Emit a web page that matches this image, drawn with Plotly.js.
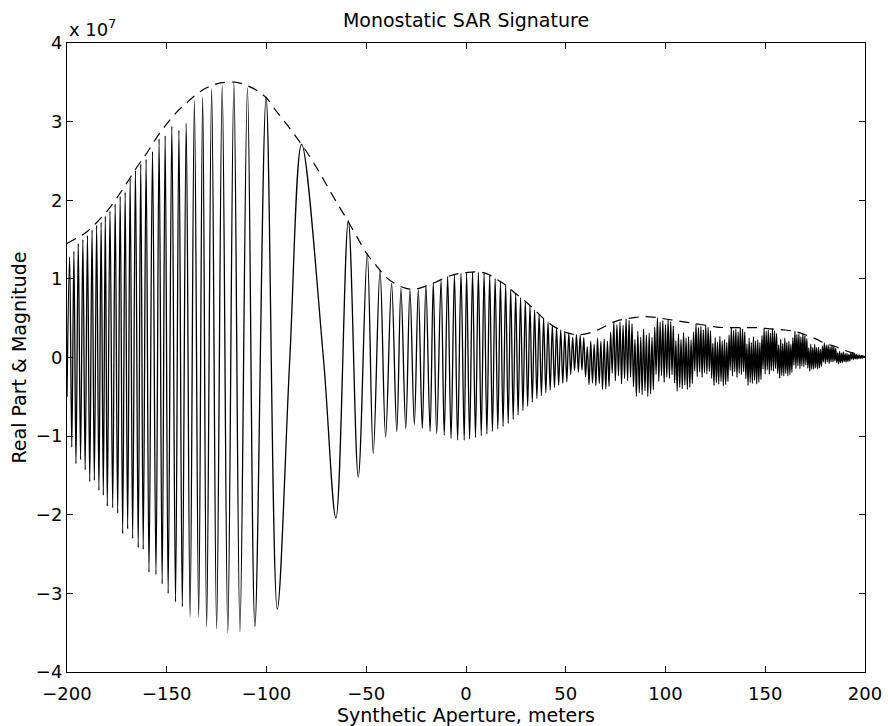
<!DOCTYPE html>
<html><head><meta charset="utf-8">
<script src="https://cdn.plot.ly/plotly-3.0.1.min.js"></script>
<style>html,body{margin:0;padding:0;background:#fff;} #chart{width:888px;height:726px;}</style>
</head><body><div id="chart"></div>
<script>
const SCALE = 1e7;

// Magnitude (dashed envelope): x in meters, value in units of 1e7
const magX = [-200,-195,-190,-185,-180,-175,-170,-165,-160,-155,-150,-145,-140,-135,-130,-125,-120,-115,-110,-105,-100,-95,-90,-85,-80,-75,-70,-65,-60,-55,-50,-45,-40,-35,-30,-25,-20,-15,-10,-5,0,5,10,15,20,25,30,35,40,45,50,55,60,65,70,75,80,85,90,95,100,105,110,115,120,125,130,135,140,145,150,155,160,165,170,175,180,185,190,195,200];
const magY = [1.45,1.52,1.60,1.72,1.86,2.03,2.22,2.42,2.60,2.80,2.97,3.12,3.24,3.35,3.43,3.48,3.50,3.50,3.46,3.40,3.30,3.13,2.97,2.80,2.62,2.42,2.20,1.98,1.77,1.55,1.33,1.17,1.02,0.93,0.88,0.87,0.91,0.96,1.02,1.06,1.08,1.09,1.07,1.00,0.92,0.81,0.71,0.59,0.47,0.38,0.32,0.29,0.30,0.34,0.40,0.46,0.49,0.51,0.52,0.51,0.49,0.47,0.45,0.43,0.41,0.39,0.38,0.38,0.38,0.38,0.37,0.36,0.35,0.33,0.29,0.24,0.18,0.14,0.09,0.05,0.01];

// Real part: resolved peaks and troughs (x m, value 1e7)
const extX = [-200,-198.7,-197.6,-196.55,-195.5,-194.35,-193.2,-192.05,-190.9,-189.75,-188.6,-187.45,-186.3,-185.15,-184.0,-182.9,-181.8,-180.8,-179.8,-178.45,-177.1,-175.85,-174.6,-173.35,-172.1,-170.85,-169.6,-168.35,-167.1,-165.7,-164.3,-163.05,-161.8,-160.35,-158.9,-157.15,-155.4,-153.85,-152.3,-150.8,-149.3,-147.45,-145.6,-143.9,-142.2,-140.25,-138.3,-136.15,-134.0,-132.0,-130.0,-127.5,-125.0,-122.2,-119.4,-116.35,-113.3,-109.55,-105.8,-100.2,-94.6,-88.3,-82.4,-71.5,-65.2,-59.0,-54.0,-49.5,-46.5,-43.1,-40.3,-37.3,-34.7,-32.6,-30.2,-28.1,-25.9,-23.9,-21.9,-20.1,-18.0,-16.4,-14.7,-12.5,-10.9,-9.2,-7.5,-5.8,-4.2,-2.5,-0.9,0.3];
const extY = [-0.5,1.28,-1.14,1.35,-1.35,1.45,-1.30,1.50,-1.43,1.55,-1.58,1.62,-1.56,1.68,-1.69,1.72,-1.75,1.80,-1.89,1.86,-1.91,1.95,-1.98,2.05,-2.24,2.10,-2.18,2.28,-2.30,2.38,-2.42,2.46,-2.44,2.52,-2.73,2.62,-2.76,2.78,-2.88,2.82,-3.00,2.94,-3.11,2.89,-3.17,2.98,-3.30,3.27,-3.30,3.31,-3.43,3.42,-3.45,3.46,-3.50,3.50,-3.49,3.43,-3.42,3.31,-3.20,0,2.71,0,-2.04,1.74,-1.52,1.32,-1.22,1.11,-1.01,0.94,-0.94,0.88,-0.90,0.86,-0.85,0.86,-0.90,0.92,-0.94,0.95,-0.97,0.98,-0.99,1.03,-1.03,1.05,-1.05,1.07,-1.05,1.07];

// Dense part (x > 0): local cycle length (m)
const cycX   = [0, 10, 20, 30, 40, 50, 60, 80, 100, 120, 150, 200];
const cycLen = [3.0, 2.8, 2.55, 2.35, 2.2, 2.0, 1.75, 1.5, 1.32, 1.2, 1.05, 0.9];
// Dense part: lowest reach of the troughs (1e7)
const loX = [0,10,20,25,30,35,40,45,50,55,60,70,80,90,100,110,120,130,140,150,160,170,180,190,200];
const loY = [-1.05,-0.98,-0.86,-0.76,-0.64,-0.53,-0.45,-0.37,-0.31,-0.30,-0.33,-0.42,-0.49,-0.50,-0.45,-0.41,-0.35,-0.36,-0.36,-0.32,-0.24,-0.19,-0.12,-0.06,-0.01];
// Relative reach of successive tips in the dense, unresolved region
const tipPattern = [1.0,0.6,0.95,0.5,0.85,0.75,0.45,1.0,0.65,0.9,0.5,0.95,0.7,0.85,0.55];

const xTickVals = [-200,-150,-100,-50,0,50,100,150,200];
const xTickText = ['\u2212200','\u2212150','\u2212100','\u221250','0','50','100','150','200'];
const yTickVals = [-4,-3,-2,-1,0,1,2,3,4];
const yTickText = ['\u22124','\u22123','\u22122','\u22121','0','1','2','3','4'];

function lerp(xs, ys, x) {
  if (x <= xs[0]) return ys[0];
  for (let i = 1; i < xs.length; i++) {
    if (x <= xs[i]) { const t = (x - xs[i-1]) / (xs[i] - xs[i-1]); return ys[i-1] + t * (ys[i] - ys[i-1]); }
  }
  return ys[ys.length - 1];
}

const rx = extX.slice(), ry = extY.slice();
let x = extX[extX.length - 1];
let up = false, k = 0;
while (true) {
  x += lerp(cycX, cycLen, x) / 2;
  if (x >= 199.6) break;
  const f = x > 52 ? tipPattern[k % tipPattern.length] : 1;
  ry.push(up ? lerp(magX, magY, x) * f : lerp(loX, loY, x) * f);
  rx.push(x);
  up = !up; k++;
}
rx.push(200); ry.push(0);

const traces = [
  { x: rx, y: ry.map(v => v * SCALE), mode: 'lines', line: { color: '#000', width: 1.3, shape: 'spline', smoothing: 1 }, hoverinfo: 'skip' },
  { x: magX, y: magY.map(v => v * SCALE), mode: 'lines', line: { color: '#000', width: 1.2, dash: '10px,7px', shape: 'spline' }, hoverinfo: 'skip' }
];

const fontFam = 'DejaVu Sans, Liberation Sans, sans-serif';
const titleFont = { family: fontFam, size: 19, color: '#000' };
const tickFont = { family: fontFam, size: 18, color: '#000' };
const layout = {
  width: 888, height: 726,
  margin: { l: 67, r: 23, t: 43, b: 54, pad: 0 },
  paper_bgcolor: '#fff', plot_bgcolor: '#fff',
  showlegend: false,
  font: { family: fontFam, size: 18, color: '#000' },
  title: { text: 'Monostatic SAR Signature', x: 0.5, xref: 'paper', xanchor: 'center', y: 1 - 20/726, yref: 'container', yanchor: 'middle', font: titleFont },
  xaxis: {
    range: [-200, 200], tickmode: 'array', tickvals: xTickVals, ticktext: xTickText,
    ticks: 'inside', ticklen: 6, tickwidth: 1, tickcolor: '#000',
    showline: true, linecolor: '#000', linewidth: 1, mirror: 'ticks',
    showgrid: false, zeroline: false, automargin: false,
    ticklabelstandoff: 5,
    tickfont: tickFont,
    title: { text: 'Synthetic Aperture, meters', standoff: 3, font: titleFont }
  },
  yaxis: {
    range: [-4 * SCALE, 4 * SCALE], tickmode: 'array', tickvals: yTickVals.map(v => v * SCALE), ticktext: yTickText,
    ticks: 'inside', ticklen: 6, tickwidth: 1, tickcolor: '#000',
    showline: true, linecolor: '#000', linewidth: 1, mirror: 'ticks',
    showgrid: false, zeroline: false, automargin: false,
    tickfont: tickFont,
    title: { text: 'Real Part & Magnitude', standoff: 4, font: titleFont }
  },
  annotations: [
    { text: 'x 10<sup>7</sup>', xref: 'paper', yref: 'paper', x: 0, y: 1, xanchor: 'left', yanchor: 'bottom', yshift: 1, showarrow: false, font: tickFont }
  ]
};

Plotly.newPlot('chart', traces, layout, { staticPlot: true, displayModeBar: false });
</script>
</body></html>
